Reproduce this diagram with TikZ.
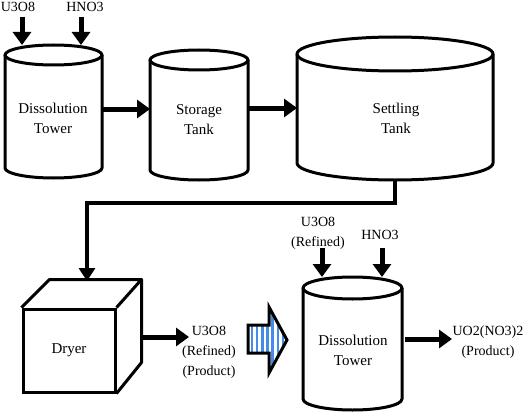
\documentclass[tikz,border=0pt]{standalone}
\usepackage{fontspec}
\setmainfont{Liberation Serif}
\usetikzlibrary{arrows.meta}
\definecolor{stripeblue}{RGB}{70,140,230}
\newcommand\mycyl[3]{%
  \draw[outline] (#1.north) ellipse [x radius=#2, y radius=#3];
  \draw[outline] (#1.north west) -- (#1.south west)
    arc[start angle=180, end angle=360, x radius=#2, y radius=#3] -- (#1.north east);
}
\begin{document}
\begin{tikzpicture}[x=1pt,y=-1pt,
  outline/.style={line width=3pt, line join=round},
  body/.style={inner sep=0pt, outer sep=0pt, minimum width=#1},
  lbl/.style={align=center, font=\fontsize{15}{20}\selectfont, inner sep=0pt},
  small/.style={align=center, font=\fontsize{14}{20}\selectfont, inner sep=0pt},
  flow/.style={line width=5pt, -{Triangle[length=13pt,width=18pt]}},
  pipe/.style={line width=4.5pt, -{Triangle[length=13pt,width=16pt]}},
]
\fill[white] (0,0) rectangle (530,412);
\useasboundingbox (0,0) rectangle (530,412);

% cylinder bodies
\node[body=97pt, minimum height=113pt] (dt1) at (53.5,111.5) {};
\node[body=98pt, minimum height=110pt] (st) at (199,115) {};
\node[body=196pt, minimum height=109pt] (set) at (395,108.5) {};
\node[body=99pt, minimum height=111pt] (dt2) at (352.5,343.5) {};
\mycyl{dt1}{48.5pt}{10pt}
\mycyl{st}{49pt}{10pt}
\mycyl{set}{98pt}{17pt}
\mycyl{dt2}{49.5pt}{11pt}

% cylinder texts
\node[lbl] (dt1t) at (53,118) {Dissolution\\Tower};
\node[lbl] (stt) at (199,120) {Storage\\Tank};
\node[lbl] (sett) at (396,118) {Settling\\Tank};
\node[lbl] (dt2t) at (353,350) {Dissolution\\Tower};

% inputs to first tower
\node[small] (u1) at (18,6.5) {U3O8};
\node[small] (h1) at (85,6.5) {HNO3};
\coordinate (u1s) at (22,17); \coordinate (u1e) at (22,45);
\coordinate (h1s) at (81,17); \coordinate (h1e) at (81,45);
\draw[flow] (u1s) -- (u1e);
\draw[flow] (h1s) -- (h1e);

% main flow
\draw[flow] (dt1.east |- 0,109) -- (st.west |- 0,109);
\draw[flow] (st.east |- 0,108) -- (set.west |- 0,108);

% dryer cube
\node[draw, line width=3pt, minimum width=92pt, minimum height=83pt,
      font=\fontsize{15}{20}\selectfont] (dryer) at (69,350.5) {Dryer};
\draw[outline] (dryer.north west) -- ++(28pt,28pt) coordinate (bl)
  -- ++(92pt,0pt) coordinate (br) -- (dryer.north east)
  (br) -- ++(0pt,-83pt) -- (dryer.south east);
\coordinate (dryin) at (87,281);
\coordinate (setb) at ([yshift=-17pt]set.south);
\coordinate (bend) at (setb |- 0,203);
\draw[pipe] (setb) -- (bend) -| (dryin);

% dryer output
\node[small] (prod1) at (209,352) {U3O8\\(Refined)\\(Product)};
\coordinate (prod1in) at (189,337);
\draw[flow] (br |- 0,337) -- (prod1in);

% striped arrow
\begin{scope}
  \clip (248,325) -- (269,325) -- (269,307) -- (287,340) -- (269,373) -- (269,353) -- (248,353) -- cycle;
  \foreach \i in {0,...,7} \fill[stripeblue] (250.5+\i*5.2,300) rectangle ++(2.6,80);
\end{scope}
\draw[line width=3pt, line join=miter] (248,325) -- (269,325) -- (269,307) -- (287,340)
  -- (269,373) -- (269,353) -- (248,353) -- cycle;

% inputs to second tower
\node[small] (u2) at (318,233) {U3O8\\(Refined)};
\node[small] (h2) at (380,235) {HNO3};
\coordinate (u2s) at (322,248); \coordinate (u2e) at (322,277);
\coordinate (h2s) at (382,248); \coordinate (h2e) at (382,277);
\draw[flow] (u2s) -- (u2e);
\draw[flow] (h2s) -- (h2e);

% final output
\node[small] (prod2) at (488,342) {UO2(NO3)2\\(Product)};
\coordinate (prod2in) at (452,339);
\draw[flow] ([xshift=3pt]dt2.east |- 0,339) -- (prod2in);
\end{tikzpicture}
\end{document}
